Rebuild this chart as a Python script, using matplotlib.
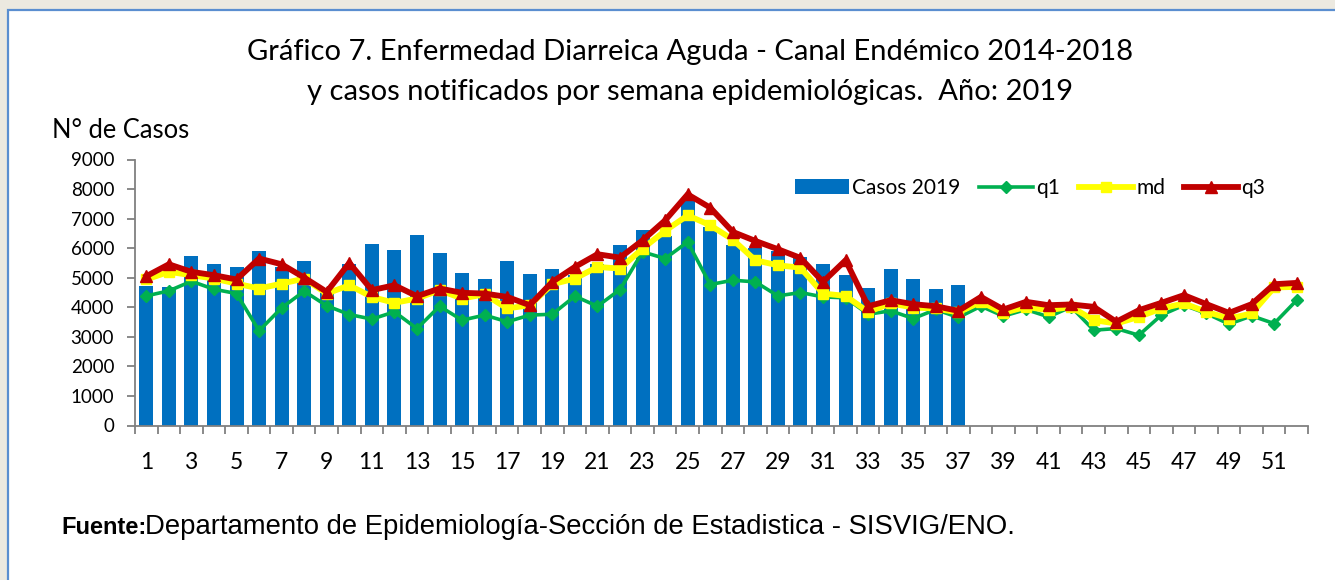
import matplotlib
matplotlib.use("Agg")
import matplotlib.pyplot as plt
import matplotlib.patches as patches
import numpy as np

# semanas epidemiologicas
semanas = list(range(1, 53))

# casos notificados 2019 (semanas 1-37)
casos_2019 = [4720, 4700, 5730, 5480, 5360, 5900, 5350, 5560, 4480, 5480,
              6150, 5930, 6460, 5850, 5160, 4970, 5570, 5120, 5300, 5100,
              5450, 6120, 6600, 6400, 7600, 6700, 6100, 6000, 5900, 5700,
              5480, 5100, 4660, 5280, 4950, 4630, 4750]

# canal endemico 2014-2018
q1 = [4385, 4555, 4880, 4610, 4465, 3205, 3980, 4545, 4050, 3755,
      3600, 3845, 3280, 4035, 3565, 3735, 3510, 3735, 3765, 4375,
      4035, 4600, 5875, 5650, 6210, 4770, 4915, 4860, 4385, 4500,
      4350, 4320, 3765, 3880, 3620, 3925, 3655, 4035, 3700, 3925,
      3675, 4015, 3225, 3280, 3055, 3735, 4070, 3790, 3430, 3710,
      3450, 4240]
md = [4940, 5200, 5085, 4970, 4800, 4635, 4800, 4970, 4465, 4745,
      4350, 4150, 4295, 4580, 4295, 4440, 3960, 4070, 4780, 4970,
      5365, 5310, 5985, 6585, 7110, 6775, 6290, 5590, 5420, 5340,
      4465, 4385, 3845, 4130, 3990, 3960, 3825, 4185, 3810, 4015,
      3900, 4015, 3565, 3450, 3675, 3960, 4130, 3845, 3620, 3790,
      4670, 4690]
q3 = [5050, 5455, 5200, 5085, 4940, 5650, 5455, 5005, 4520, 5500,
      4580, 4745, 4375, 4635, 4490, 4465, 4350, 4070, 4860, 5365,
      5795, 5680, 6265, 6940, 7820, 7370, 6550, 6245, 5965, 5670,
      4860, 5590, 4035, 4240, 4105, 4035, 3880, 4350, 3925, 4185,
      4070, 4095, 4015, 3510, 3900, 4150, 4410, 4105, 3810, 4105,
      4780, 4825]

W, H = 1335, 580
fig = plt.figure(figsize=(W / 100, H / 100), dpi=100, facecolor="#ECE9E0")

# marco blanco con borde azul
marco = patches.Rectangle((8 / W, -0.1), 1.1, 1.1 - 10 / H,
                          transform=fig.transFigure, facecolor="white",
                          edgecolor="#5A8ED0", linewidth=1.6, zorder=-10)
fig.patches.append(marco)

ax = fig.add_axes([135 / W, 1 - 425.5 / H, (1308 - 135) / W, (425.5 - 159.5) / H])
ax.set_facecolor("none")
ax.set_zorder(5)

fuente = "Lato"
barras = ax.bar(semanas[:len(casos_2019)], casos_2019, width=0.62, color="#0070C0",
                label="Casos 2019", zorder=2)
l1, = ax.plot(semanas, q1, color="#00B050", lw=2.6, marker="D", ms=6.5, label="q1", zorder=3)
l2, = ax.plot(semanas, md, color="#FFFF00", lw=4.2, marker="s", ms=6.5, label="md", zorder=4)
l3, = ax.plot(semanas, q3, color="#C00000", lw=4.2, marker="^", ms=8, label="q3", zorder=5)

ax.set_xlim(0.5, 52.5)
ax.set_ylim(0, 9000)
ax.set_yticks(range(0, 9001, 1000))
ax.set_xticks(semanas[::2])
ax.set_xticks(np.arange(0.5, 53, 1), minor=True)
ax.tick_params(axis="x", which="major", length=0, pad=19, labelsize=16.4)
ax.tick_params(axis="x", which="minor", length=6, color="#808080", width=1.3)
ax.tick_params(axis="y", length=6, color="#808080", width=1.3, labelsize=13.5, pad=9)
for lab in ax.get_xticklabels() + ax.get_yticklabels():
    lab.set_family(fuente)

for s in ["top", "right"]:
    ax.spines[s].set_visible(False)
for s in ["left", "bottom"]:
    ax.spines[s].set_color("#808080")
    ax.spines[s].set_linewidth(1.3)

leg = ax.legend([barras, l1, l2, l3], ["Casos 2019", "q1", "md", "q3"],
                loc="center", bbox_to_anchor=(1030 / W, 1 - 188 / H),
                bbox_transform=fig.transFigure, ncol=4, frameon=False,
                prop={"family": fuente, "size": 15},
                handlelength=2.6, handletextpad=0.15, columnspacing=0.9)

fig.text(690 / W, 1 - 52 / H, "Gráfico 7. Enfermedad Diarreica Aguda - Canal Endémico 2014-2018",
         ha="center", va="center", fontsize=21, family=fuente)
fig.text(690 / W, 1 - 92 / H, "y casos notificados por semana epidemiológicas.  Año: 2019",
         ha="center", va="center", fontsize=21, family=fuente)
fig.text(52 / W, 1 - 130 / H, "N° de Casos", ha="left", va="center",
         fontsize=18.4, family=fuente)

fig.text(61 / W, 1 - 527 / H, "Fuente:", ha="left", va="center", fontsize=17,
         family="Liberation Sans", weight="bold")
fig.text(145 / W, 1 - 527 / H, "Departamento de Epidemiología-Sección de Estadistica - SISVIG/ENO.",
         ha="left", va="center", fontsize=19.8, family="Liberation Sans")

fig.savefig("out.png", dpi=100, facecolor=fig.get_facecolor())
